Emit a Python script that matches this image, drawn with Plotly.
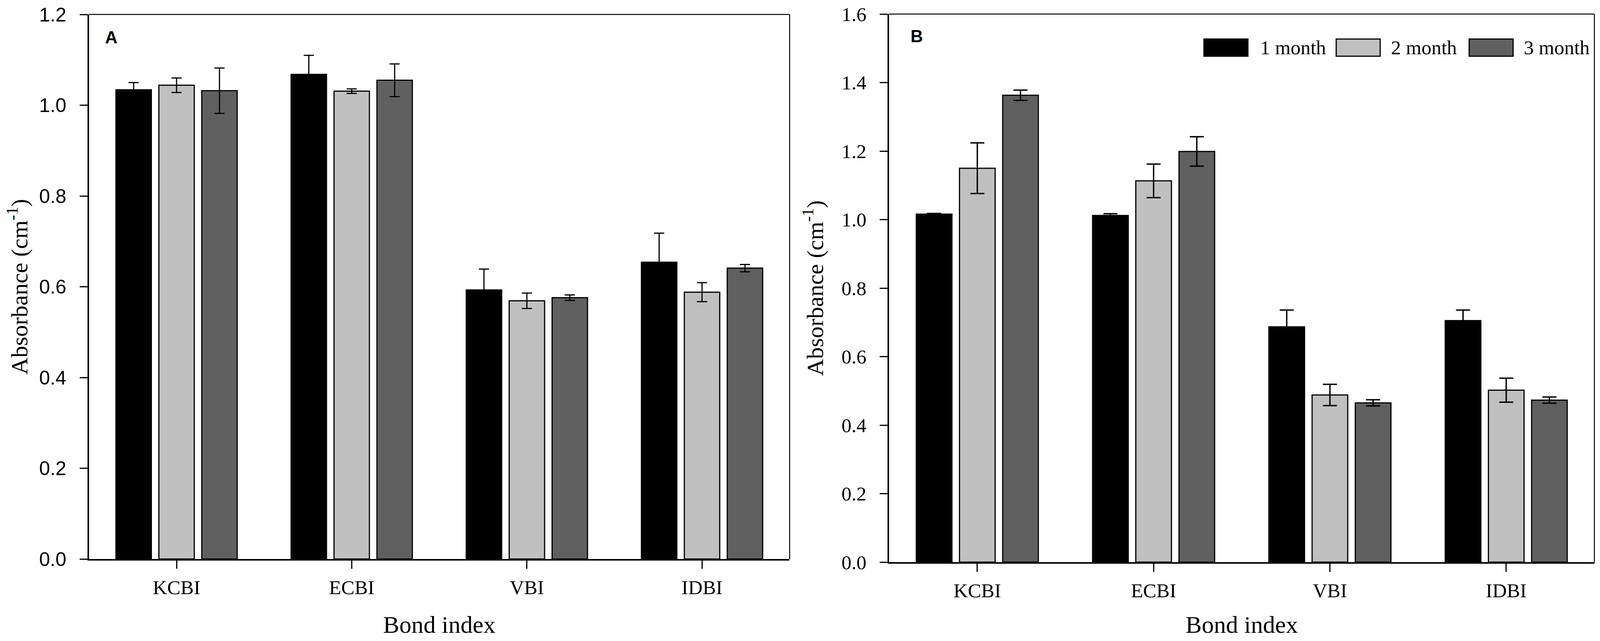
import plotly.graph_objects as go

# categories and series
bonds = ["KCBI", "ECBI", "VBI", "IDBI"]
months = ["1 month", "2 month", "3 month"]
colors = ["#000000", "#c0c0c0", "#606060"]

# panel A : mean and error
a_1m = [1.034, 1.068, 0.593, 0.654]
a_1m_err = [0.016, 0.042, 0.046, 0.064]
a_2m = [1.044, 1.031, 0.569, 0.588]
a_2m_err = [0.016, 0.005, 0.017, 0.021]
a_3m = [1.032, 1.055, 0.576, 0.641]
a_3m_err = [0.050, 0.036, 0.006, 0.008]

# panel B : mean and error
b_1m = [1.016, 1.012, 0.687, 0.705]
b_1m_err = [0.002, 0.005, 0.049, 0.031]
b_2m = [1.150, 1.113, 0.488, 0.502]
b_2m_err = [0.074, 0.049, 0.031, 0.035]
b_3m = [1.363, 1.199, 0.465, 0.473]
b_3m_err = [0.015, 0.043, 0.009, 0.009]

# tick values
ticks_a = [0, 0.2, 0.4, 0.6, 0.8, 1.0, 1.2]
ticks_b = [0, 0.2, 0.4, 0.6, 0.8, 1.0, 1.2, 1.4, 1.6]

# the page is shown in a ~4096 px wide window, so the figure is sized to fit it
W, H = 4080, 1626
REF_W = 4549
serif = "Liberation Serif"
sans = "Liberation Sans"


def fx(xr):
    # position measured on the original picture -> paper fraction
    return (xr * 4096 / REF_W - 8) / W


def fy(yr):
    return 1 - (yr - 8) / H


fig = go.Figure()

panel_a = [(a_1m, a_1m_err), (a_2m, a_2m_err), (a_3m, a_3m_err)]
panel_b = [(b_1m, b_1m_err), (b_2m, b_2m_err), (b_3m, b_3m_err)]

for i, (vals, errs) in enumerate(panel_a):
    fig.add_trace(go.Bar(
        x=bonds, y=vals, name=months[i], showlegend=False,
        marker=dict(color=colors[i], line=dict(color="black", width=3)),
        error_y=dict(type="data", array=errs, color="black", thickness=3, width=13),
        xaxis="x", yaxis="y"))

for i, (vals, errs) in enumerate(panel_b):
    fig.add_trace(go.Bar(
        x=bonds, y=vals, name=months[i], showlegend=False,
        marker=dict(color=colors[i], line=dict(color="black", width=3)),
        error_y=dict(type="data", array=errs, color="black", thickness=3.5, width=18),
        xaxis="x2", yaxis="y2"))

ytitle = "Absorbance (cm<sup>-1</sup>)"

xcommon = dict(range=[-0.5, 3.5], automargin=False, showline=True, linecolor="black",
               linewidth=4, showgrid=False, ticks="outside", ticklen=21, tickwidth=3,
               tickcolor="black", ticklabelstandoff=4,
               tickfont=dict(family=serif, size=51),
               title=dict(text="Bond index", font=dict(family=serif, size=62), standoff=56))
ycommon = dict(automargin=False, tickformat=".1f", showline=True, linecolor="black",
               linewidth=4, showgrid=False, zeroline=False, ticks="outside", ticklen=20,
               tickwidth=3, tickcolor="black", ticklabelstandoff=24,
               ticklabeloverflow="allow",
               title=dict(text=ytitle, font=dict(family=serif, size=60), standoff=28))

fig.update_layout(
    template="none",
    width=W, height=H, autosize=False,
    margin=dict(l=0, r=0, t=0, b=0, pad=0),
    paper_bgcolor="white", plot_bgcolor="white",
    barmode="group", bargap=0.265, bargroupgap=0.175,
    font=dict(family=serif, color="black"),
    xaxis=dict(xcommon, domain=[fx(253), fx(2245)], anchor="y"),
    yaxis=dict(ycommon, domain=[fy(1432), fy(37)], anchor="x", range=[0, 1.2000001],
               tickvals=ticks_a, tickfont=dict(family=sans, size=50)),
    xaxis2=dict(xcommon, domain=[fx(2528), fx(4533)], anchor="y2"),
    yaxis2=dict(ycommon, domain=[fy(1440), fy(36)], anchor="x2", range=[0, 1.6000001],
                tickvals=ticks_b, tickfont=dict(family=serif, size=51)),
)

# frame: top and right lines of each panel
for xa, ya in [("x", "y"), ("x2", "y2")]:
    fig.add_shape(type="line", xref=xa + " domain", yref=ya + " domain",
                  x0=0, x1=1, y0=1, y1=1, line=dict(color="black", width=2.5))
    fig.add_shape(type="line", xref=xa + " domain", yref=ya + " domain",
                  x0=1, x1=1, y0=0, y1=1, line=dict(color="black", width=2.5))

# panel letters
fig.add_annotation(text="<b>A</b>", xref="paper", yref="paper", x=fx(296), y=fy(95),
                   xanchor="left", yanchor="middle", showarrow=False,
                   font=dict(family=sans, size=44))
fig.add_annotation(text="<b>B</b>", xref="paper", yref="paper", x=fx(2587), y=fy(93),
                   xanchor="left", yanchor="middle", showarrow=False,
                   font=dict(family=sans, size=44))

# legend drawn by hand (big swatches like the original)
box_x = [3423, 3799, 4177]
text_x = [3581, 3953, 4330]
for i in range(3):
    fig.add_shape(type="rect", xref="paper", yref="paper",
                  x0=fx(box_x[i]), x1=fx(box_x[i] + 125),
                  y0=fy(144), y1=fy(100),
                  fillcolor=colors[i], line=dict(color="black", width=3))
    fig.add_annotation(text=months[i], xref="paper", yref="paper",
                       x=fx(text_x[i]), y=fy(122),
                       xanchor="left", yanchor="middle", showarrow=False,
                       font=dict(family=serif, size=51))

fig.write_html("out.html")
